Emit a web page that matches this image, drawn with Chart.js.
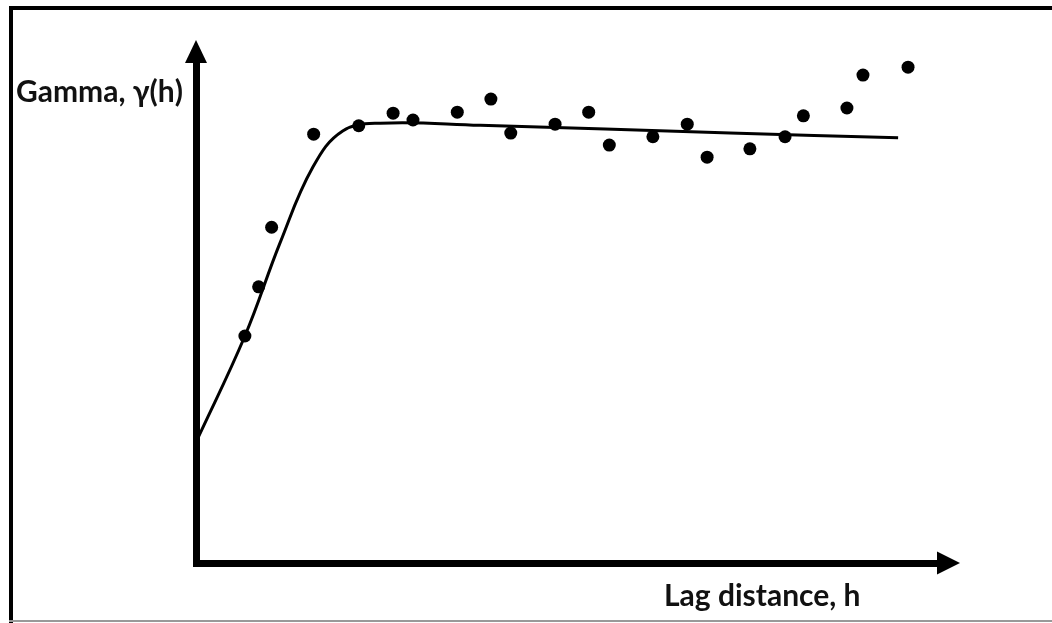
<!DOCTYPE html>
<html>
<head>
<meta charset="utf-8">
<title>Variogram</title>
<script src="https://cdn.jsdelivr.net/npm/chart.js@4/dist/chart.umd.min.js"></script>
<style>
  body { margin: 0; background: #fff; }
  canvas { display: block; }
</style>
</head>
<body>
<canvas id="myChart" width="1052" height="623"></canvas>
<script>
// experimental variogram points (lag, gamma), 0-100 scale
const lagPoints = [6.4, 8.2, 9.9, 15.4, 21.3, 25.8, 28.4, 34.2, 38.6, 41.2, 47.0,
                   51.4, 54.1, 59.8, 64.3, 66.9, 72.5, 77.1, 79.5, 85.2, 87.3, 93.2];
const gammaPoints = [43.4, 52.8, 64.2, 82.0, 83.6, 86.0, 84.7, 86.2, 88.7, 82.2, 83.9,
                     86.2, 79.9, 81.5, 83.9, 77.6, 79.2, 81.5, 85.5, 87.0, 93.3, 94.8];

// fitted model curve
const lagModel = [0, 6.4, 11.0, 15.3, 19.2, 24.1, 37.2, 69.9, 91.9];
const gammaModel = [23.1, 43.4, 61.2, 75.7, 82.6, 84.1, 83.7, 82.2, 81.3];

const yTitle = 'Gamma, \u03b3(h)';
const xTitle = 'Lag distance, h';

function toXY(xs, ys) {
  return xs.map((x, i) => ({ x: x, y: ys[i] }));
}

// draws the frame, the arrow axes and the two labels
const sketchAxes = {
  id: 'sketchAxes',
  beforeDatasetsDraw(chart) {
    const ctx = chart.ctx;
    const a = chart.chartArea;
    ctx.save();

    // frame round the picture
    ctx.fillStyle = '#000';
    ctx.fillRect(9, 6, 1052 - 9, 4);
    ctx.fillRect(9, 6, 4, 623 - 6);
    ctx.fillStyle = '#999';
    ctx.fillRect(9, 620, 1052 - 9, 2);

    // y axis with arrow
    ctx.fillStyle = '#000';
    ctx.fillRect(a.left - 3, a.top + 20, 7, a.bottom - a.top - 16);
    ctx.beginPath();
    ctx.moveTo(a.left, a.top);
    ctx.lineTo(a.left - 11, a.top + 23);
    ctx.lineTo(a.left + 11, a.top + 23);
    ctx.closePath();
    ctx.fill();

    // x axis with arrow
    ctx.fillRect(a.left - 3, a.bottom - 3, a.right - a.left - 20, 7);
    ctx.beginPath();
    ctx.moveTo(a.right, a.bottom);
    ctx.lineTo(a.right - 23, a.bottom - 11.5);
    ctx.lineTo(a.right - 23, a.bottom + 11.5);
    ctx.closePath();
    ctx.fill();

    // labels
    ctx.fillStyle = '#111';
    ctx.textBaseline = 'alphabetic';
    ctx.textAlign = 'left';
    ctx.font = 'bold 30px Lato, "Open Sans", sans-serif';
    ctx.fillText(yTitle, 16, 102);
    ctx.fillText(xTitle, 664, 606);
    ctx.restore();
  }
};

const ctx = document.getElementById('myChart');
const myChart = new Chart(ctx, {
  type: 'scatter',
  data: {
    datasets: [
      {
        label: 'Model',
        data: toXY(lagModel, gammaModel),
        showLine: true,
        tension: 0.4,
        borderColor: '#000',
        borderWidth: 3,
        pointRadius: 0,
        clip: false
      },
      {
        label: 'Experimental',
        data: toXY(lagPoints, gammaPoints),
        showLine: false,
        backgroundColor: '#000',
        borderColor: '#000',
        pointRadius: 6.5,
        pointBorderWidth: 0,
        clip: false
      }
    ]
  },
  options: {
    responsive: false,
    animation: false,
    layout: {
      padding: { left: 196, right: 92, top: 40, bottom: 60 }
    },
    scales: {
      x: { type: 'linear', min: 0, max: 100, display: false },
      y: { type: 'linear', min: 0, max: 100, display: false }
    },
    plugins: {
      legend: { display: false },
      tooltip: { enabled: false }
    }
  },
  plugins: [sketchAxes]
});
</script>
</body>
</html>
